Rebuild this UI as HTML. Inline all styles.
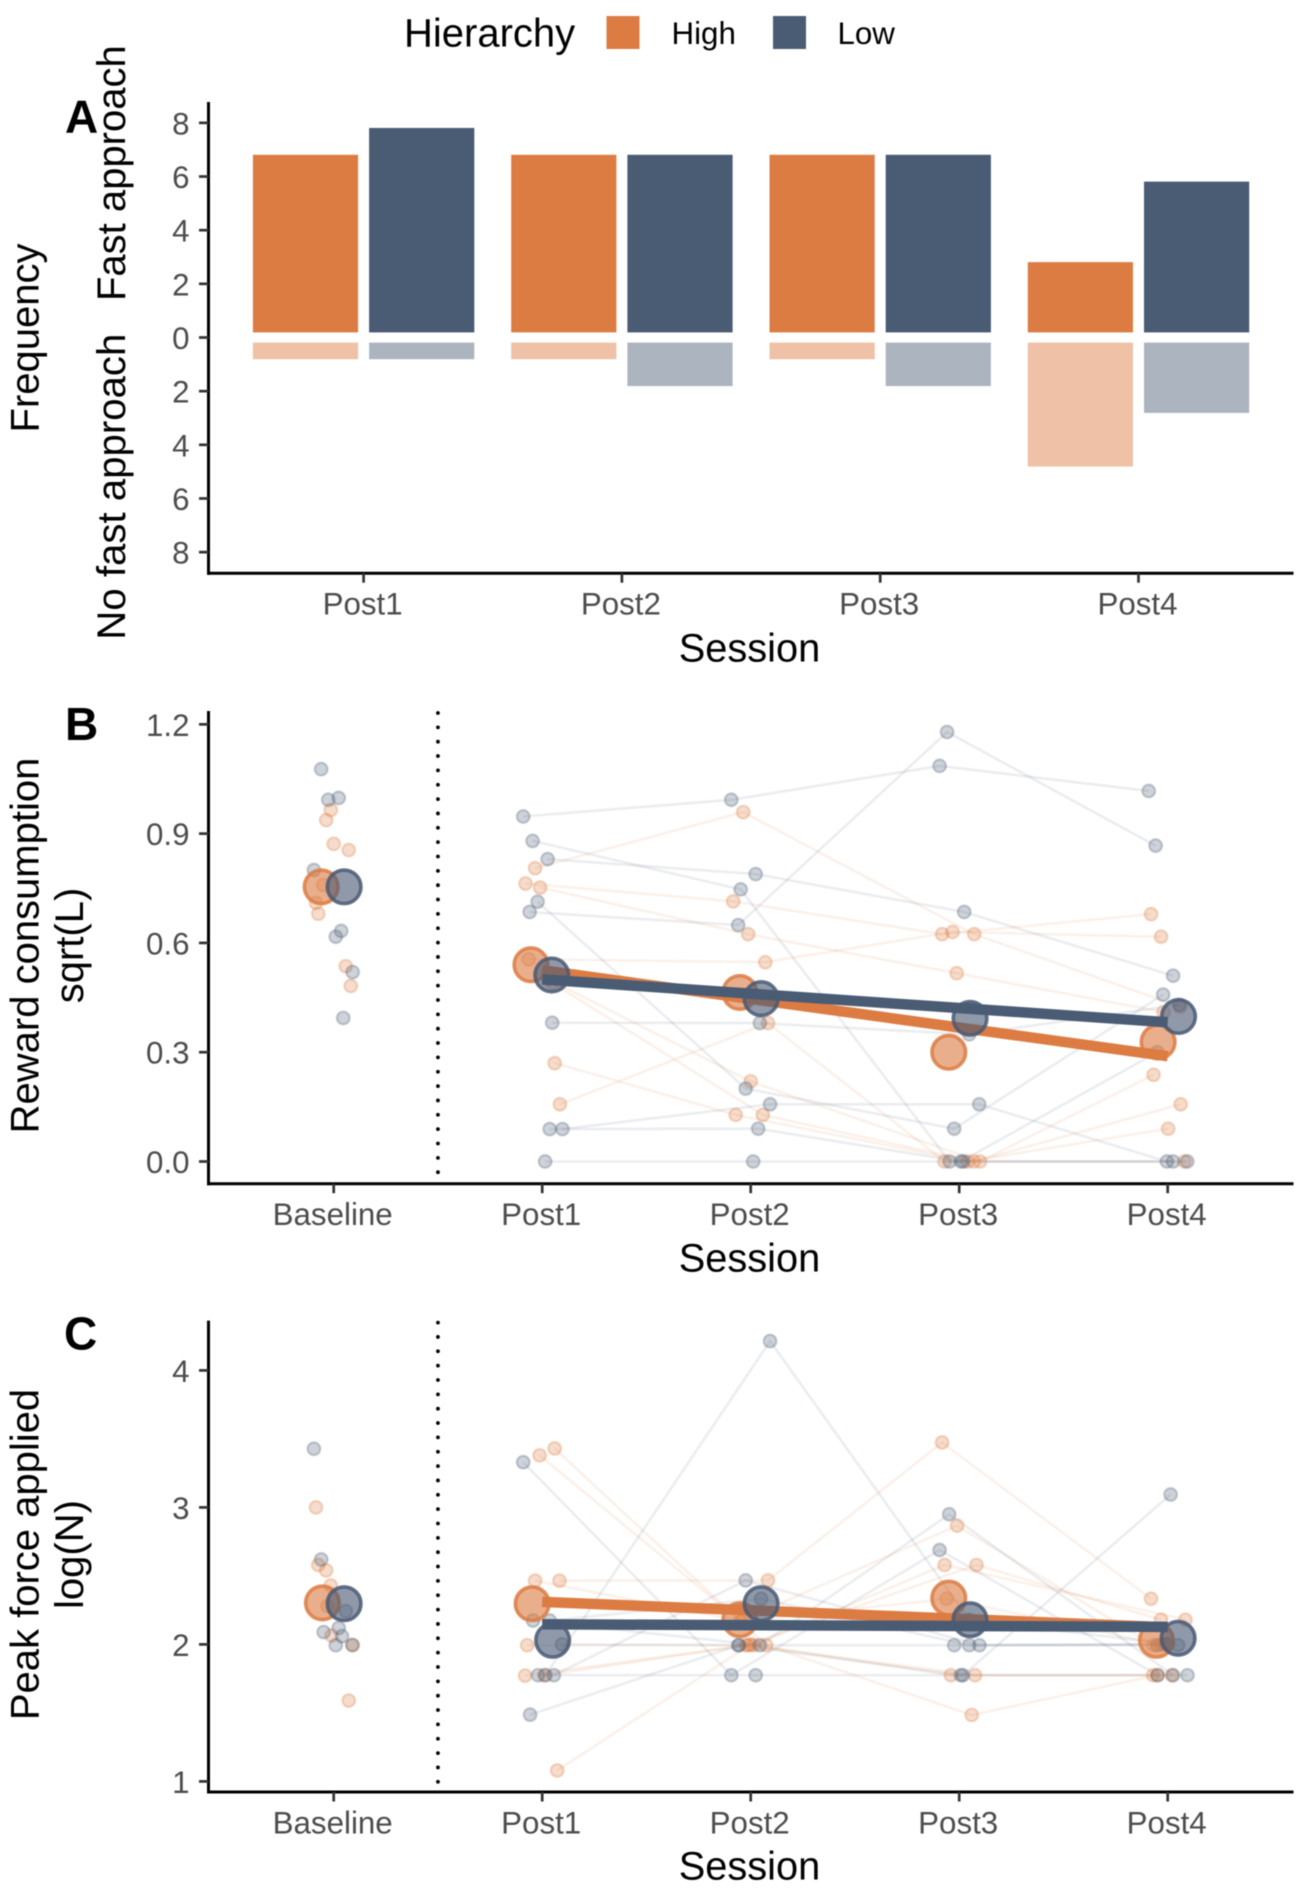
<!DOCTYPE html>
<html lang="en">
<head>
<meta charset="utf-8">
<title>Hierarchy by session</title>
<style>
html,body{margin:0;padding:0;background:#fff}
svg{display:block;font-family:"Liberation Sans",Arial,sans-serif;filter:blur(.5px)}
</style>
</head>
<body>
<svg id="figure" xmlns="http://www.w3.org/2000/svg" width="1299" height="1888" viewBox="0 0 1299 1888">
<rect width="1299" height="1888" fill="#fff"/>
<g>
<text x="404" y="46.5" font-size="40">Hierarchy</text>
<rect x="606.5" y="16" width="33" height="33" fill="#DC7C43"/>
<text x="671.5" y="44" font-size="31.3">High</text>
<rect x="773" y="16" width="33" height="33" fill="#4A5B74"/>
<text x="837.5" y="44" font-size="31.3">Low</text>
</g>
<text x="65" y="132.6" font-size="46" font-weight="bold">A</text>
<text x="65" y="739.8" font-size="46" font-weight="bold">B</text>
<text x="64" y="1349.5" font-size="46" font-weight="bold">C</text>
<text transform="translate(38.6 338) rotate(-90)" text-anchor="middle" font-size="40">Frequency</text>
<text transform="translate(125 301) rotate(-90)" font-size="40">Fast approach</text>
<text transform="translate(125 639.7) rotate(-90)" font-size="40.2">No fast approach</text>
<text transform="translate(38.6 945.5) rotate(-90)" text-anchor="middle" font-size="40">Reward consumption</text>
<text transform="translate(83 945.5) rotate(-90)" text-anchor="middle" font-size="40">sqrt(L)</text>
<text transform="translate(38.6 1554.5) rotate(-90)" text-anchor="middle" font-size="40">Peak force applied</text>
<text transform="translate(83 1554.5) rotate(-90)" text-anchor="middle" font-size="40">log(N)</text>
<text x="749.5" y="661.5" text-anchor="middle" font-size="39.8">Session</text>
<text x="749.5" y="1271.5" text-anchor="middle" font-size="39.8">Session</text>
<text x="749.5" y="1879.5" text-anchor="middle" font-size="39.8">Session</text>
</svg>
<script>
// ---------- Panel A data ----------
const barSessions = ["Post1", "Post2", "Post3", "Post4"];
const fastHigh = [7, 7, 7, 3];
const fastLow = [8, 7, 7, 6];
const noFastHigh = [1, 1, 1, 5];
const noFastLow = [1, 2, 2, 3];
const freqTicks = [8, 6, 4, 2, 0, -2, -4, -6, -8];

// ---------- Shared ----------
const lineSessions = ["Baseline", "Post1", "Post2", "Post3", "Post4"];

// ---------- Panel B data: [session position with jitter, value] ----------
const rewardTicks = [0, 0.3, 0.6, 0.9, 1.2];
const rewardTickLabels = ["0.0", "0.3", "0.6", "0.9", "1.2"];
const rewardBaselineLow = [[-.06,1.077],[-.026,.993],[.024,.998],[-.095,.80],[.036,.633],[.01,.617],[.091,.52],[.046,.394]];
const rewardBaselineHigh = [[-.014,.965],[-.036,.937],[0,.872],[.072,.855],[-.085,.71],[-.074,.68],[-.05,.759],[.058,.536],[.082,.482]];
const rewardSubjectsLow = [
  [[.909,.947],[1.907,.993],[2.906,1.086],[3.909,1.017]],
  [[.954,.88],[1.952,.747],[2.954,0],[4.094,0]],
  [[1.026,.83],[2.024,.789],[3.024,.685],[4.026,.51]],
  [[.94,.685],[1.94,.649],[2.942,1.179],[3.942,.867]],
  [[.978,.713],[1.976,.2],[2.976,.09],[3.978,.458]],
  [[1.048,.381],[2.044,.38],[3.048,.349],[4.056,.43]],
  [[1.097,.089],[2.093,.157],[3.096,.157],[3.996,0]],
  [[1.036,.089],[2.036,.09],[3.008,0],[3.95,.30]],
  [[1.014,0],[2.012,0],[3.02,0],[4.026,0]]
];
const rewardSubjectsHigh = [
  [[.966,.805],[1.964,.959],[3.072,.624],[4.06,.425]],
  [[.92,.763],[1.916,.714],[2.918,.624],[3.92,.679]],
  [[.99,.752],[1.988,.624],[2.988,.517],[3.98,.41]],
  [[.935,.555],[2.07,.547],[2.968,.63],[3.968,.617]],
  [[1.03,.50],[2.0,.22],[3.1,0],[3.932,.238]],
  [[1.05,.49],[2.058,.128],[3.07,0],[4.062,.157]],
  [[1.06,.27],[1.928,.128],[3.04,0],[4.002,.09]],
  [[1.085,.157],[2.083,.38],[2.93,0],[4.08,0]]
];
const rewardMeansHigh = [[-.06,.754],[.946,.54],[1.948,.464],[2.95,.30],[3.954,.328]];
const rewardMeansLow = [[.05,.754],[1.046,.512],[2.05,.447],[3.052,.393],[4.052,.398]];
const rewardTrendHigh = [[1,.525],[4,.289]];
const rewardTrendLow = [[1,.50],[4,.382]];

// ---------- Panel C data ----------
const forceTicks = [1, 2, 3, 4];
const forceTickLabels = ["1", "2", "3", "4"];
const forceBaselineLow = [[-.095,3.428],[-.06,2.62],[-.048,2.09],[.024,2.12],[.04,2.06],[.01,1.994],[.09,1.996],[.058,2.243]];
const forceBaselineHigh = [[-.085,3.0],[-.074,2.58],[-.036,2.54],[-.014,2.43],[-.03,2.28],[-.01,2.065],[.09,1.994],[.072,1.59]];
const forceSubjectsLow = [
  [[.909,3.33],[1.907,1.775],[2.906,2.689],[3.952,1.775]],
  [[.942,1.487],[1.944,1.994],[2.976,1.994],[3.99,2.0]],
  [[1.016,1.775],[2.093,4.214],[3.048,2.18],[4.05,1.994]],
  [[1.056,1.775],[1.976,2.467],[3.097,1.994],[3.95,1.994]],
  [[1.036,2.174],[2.05,2.333],[3.048,1.994],[4.0,2.0]],
  [[.956,2.174],[2.044,1.994],[2.952,2.95],[4.026,1.775]],
  [[.98,1.775],[2.024,1.775],[3.018,1.775],[4.014,3.094]],
  [[1.095,2.0],[1.94,1.994],[3.008,1.775],[4.095,1.775]]
];
const forceSubjectsHigh = [
  [[.988,3.38],[1.95,2.17],[2.99,2.867],[3.932,1.994]],
  [[1.06,3.43],[2.074,1.994],[3.06,1.485],[3.95,1.775]],
  [[1.083,2.465],[2.083,2.467],[2.918,3.474],[3.92,2.333]],
  [[.966,2.465],[1.96,2.17],[2.94,2.333],[3.97,2.0]],
  [[.928,1.994],[2.014,1.994],[2.93,2.58],[4.085,2.18]],
  [[.918,1.772],[1.978,1.994],[3.083,2.58],[3.968,2.18]],
  [[1.072,1.08],[2.0,2.0],[2.96,1.775],[4.02,1.775]],
  [[1.01,1.775],[1.99,1.994],[3.076,1.775],[3.93,1.775]]
];
const forceMeansHigh = [[-.054,2.303],[.952,2.297],[1.948,2.18],[2.95,2.338],[3.946,2.03]];
const forceMeansLow = [[.05,2.297],[1.05,2.03],[2.05,2.297],[3.052,2.18],[4.05,2.045]];
const forceTrendHigh = [[1,2.31],[4,2.125]];
const forceTrendLow = [[1,2.147],[4,2.128]];

// ---------- Drawing ----------
const svg = document.getElementById('figure');
const NS = 'http://www.w3.org/2000/svg';
const ORANGE = '#DC7C43', NAVY = '#4A5B74';
const AXIS_LEFT = 208.5, AXIS_RIGHT = 1293.5;

function mk(tag, attrs, parent) {
  const el = document.createElementNS(NS, tag);
  for (const k in attrs) el.setAttribute(k, attrs[k]);
  parent.appendChild(el);
  return el;
}

// axis functions
const xBar = i => 363.6 + 258.3 * i;
const yFreq = v => 337.5 - 26.83 * v;
const xSession = s => 333.7 + 208.5 * s;
const yReward = v => 1161.5 - 364.3 * v;
const yForce = v => 1781.4 - 137 * (v - 1);

function drawAxes(group, top, bottom) {
  const yAxis = mk('line', {x1: AXIS_LEFT, x2: AXIS_LEFT, y1: top, y2: bottom + 1.5, stroke: '#000', 'stroke-width': 3}, group);
  
  
  const xAxis = mk('line', {x1: AXIS_LEFT - 1.5, x2: AXIS_RIGHT, y1: bottom, y2: bottom, stroke: '#000', 'stroke-width': 3}, group);
  
  
}
function yTick(group, y, label) {
  const t = mk('line', {x1: AXIS_LEFT - 9.5, x2: AXIS_LEFT, y1: y, y2: y, stroke: '#333', 'stroke-width': 2.7}, group);
  
  
  const l = mk('text', {x: 189.5, y: y + 11.5, 'text-anchor': 'end', 'font-size': 31.3, fill: '#4d4d4d'}, group);
  l.textContent = label;
  
  
}
function xTick(group, x, axisY, label) {
  const t = mk('line', {x1: x, x2: x, y1: axisY, y2: axisY + 9.5, stroke: '#333', 'stroke-width': 2.7}, group);
  
  
  const l = mk('text', {x: x - 1, y: axisY + 41.5, 'text-anchor': 'middle', 'font-size': 31.3, fill: '#4d4d4d'}, group);
  l.textContent = label;
  
  
}

// Panel A
(function () {
  const g = mk('g', {}, svg);
  
  
  const INSET = 0.19, BAR_W = 105.2, GAP = 5.5;
  function bar(center, side, v0, v1, color, alpha) {
    const x = side < 0 ? center - GAP - BAR_W : center + GAP;
    const y0 = yFreq(v0), y1 = yFreq(v1);
    return mk('rect', {x: x, y: Math.min(y0, y1), width: BAR_W, height: Math.abs(y1 - y0), fill: color, 'fill-opacity': alpha}, g);
  }
  barSessions.forEach((s, i) => {
    const c = xBar(i);
    const a = bar(c, -1, INSET, fastHigh[i] - INSET, ORANGE, 1);
    
    
    const b = bar(c, 1, INSET, fastLow[i] - INSET, NAVY, 1);
    
    
    const d = bar(c, -1, -INSET, -(noFastHigh[i] - INSET), ORANGE, 0.47);
    
    
    const e = bar(c, 1, -INSET, -(noFastLow[i] - INSET), NAVY, 0.46);
    
    
  });
  drawAxes(g, 102, 573.2);
  freqTicks.forEach(v => yTick(g, yFreq(v), String(Math.abs(v))));
  barSessions.forEach((s, i) => xTick(g, xBar(i), 573.2, s));
})();

// Panels B and C
function drawLinePanel(name, top, axisY, yFn, ticks, tickLabels, baseLow, baseHigh, subjLow, subjHigh, meansHigh, meansLow, trendHigh, trendLow) {
  const g = mk('g', {}, svg);
  
  

  const path = pts => pts.map((p, i) => (i ? 'L' : 'M') + xSession(p[0]).toFixed(1) + ' ' + yFn(p[1]).toFixed(1)).join(' ');

  const sep = mk('line', {x1: xSession(0.5), x2: xSession(0.5), y1: top + 2, y2: axisY, stroke: '#000', 'stroke-width': 3.8, 'stroke-linecap': 'round', 'stroke-dasharray': '0 14.35'}, g);
  
  

  subjHigh.forEach(s => {
    const l = mk('path', {d: path(s), fill: 'none', stroke: ORANGE, 'stroke-opacity': .11, 'stroke-width': 2.6}, g);
    
    
  });
  subjLow.forEach(s => {
    const l = mk('path', {d: path(s), fill: 'none', stroke: NAVY, 'stroke-opacity': .11, 'stroke-width': 2.6}, g);
    
    
  });

  function dot(p, color) {
    return mk('circle', {cx: xSession(p[0]), cy: yFn(p[1]), r: 6.4, fill: color, 'fill-opacity': .27, stroke: color, 'stroke-opacity': .28, 'stroke-width': 2.2}, g);
  }
  baseHigh.concat(...subjHigh).forEach(p => {
    const c = dot(p, ORANGE);
    
    
  });
  baseLow.concat(...subjLow).forEach(p => {
    const c = dot(p, NAVY);
    
    
  });

  function bigDot(p, color) {
    return mk('circle', {cx: xSession(p[0]), cy: yFn(p[1]), r: 16.8, fill: color, 'fill-opacity': .62, stroke: color, 'stroke-opacity': .85, 'stroke-width': 3.6}, g);
  }
  meansHigh.forEach(p => {
    const c = bigDot(p, ORANGE);
    
    
  });
  const tHigh = mk('path', {d: path(trendHigh), fill: 'none', stroke: ORANGE, 'stroke-width': 10.5}, g);
  
  
  meansLow.forEach(p => {
    const c = bigDot(p, NAVY);
    
    
  });
  const tLow = mk('path', {d: path(trendLow), fill: 'none', stroke: NAVY, 'stroke-width': 10.5}, g);
  
  

  drawAxes(g, top, axisY);
  ticks.forEach((v, i) => yTick(g, yFn(v), tickLabels[i]));
  lineSessions.forEach((s, i) => xTick(g, xSession(i), axisY, s));
}

drawLinePanel('panel-b-reward-consumption', 711, 1183.7, yReward, rewardTicks, rewardTickLabels,
  rewardBaselineLow, rewardBaselineHigh, rewardSubjectsLow, rewardSubjectsHigh,
  rewardMeansHigh, rewardMeansLow, rewardTrendHigh, rewardTrendLow);
drawLinePanel('panel-c-peak-force', 1320.6, 1792, yForce, forceTicks, forceTickLabels,
  forceBaselineLow, forceBaselineHigh, forceSubjectsLow, forceSubjectsHigh,
  forceMeansHigh, forceMeansLow, forceTrendHigh, forceTrendLow);
</script>
</body>
</html>
